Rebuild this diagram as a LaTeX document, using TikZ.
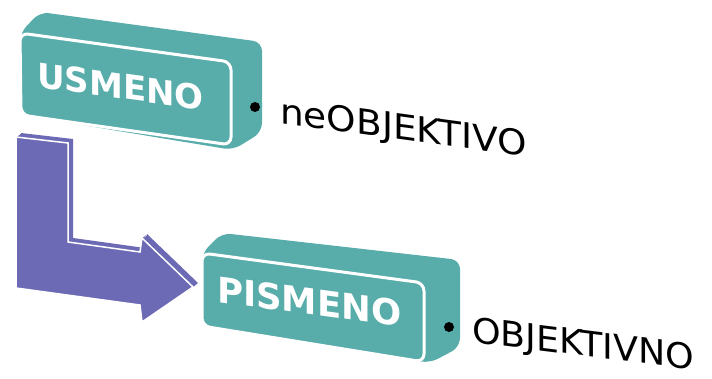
\documentclass[tikz,border=0pt]{standalone}
\usepackage{fontspec}
\setmainfont{DejaVu Sans}
\definecolor{boxteal}{RGB}{88,172,170}
\definecolor{arrowpurple}{RGB}{108,106,180}
\begin{document}
\begin{tikzpicture}[x=1pt,y=-1pt,
  boxback/.style={fill=boxteal, rounded corners=9pt},
  boxfront/.style={fill=boxteal, draw=white, line width=3pt, rounded corners=8pt},
  boxtext/.style={text=white, anchor=base west, inner sep=0pt, text depth=0pt},
  labeltext/.style={text=black, anchor=base west, inner sep=0pt, text depth=0pt, font=\fontsize{35}{40}\selectfont},
  bullet/.style={circle, fill=black, minimum size=10pt, inner sep=0pt},
  arrowfront/.style={fill=arrowpurple, draw=white, line width=1.5pt, line join=miter},
  arrowback/.style={fill=arrowpurple}
]
\useasboundingbox (0,0) rectangle (712,378);

% ---------- L-shaped arrow ----------
\foreach \t in {1,0.75,0.5,0.25}{
  \fill[arrowback, shift={(5*\t,-4*\t)}]
    (16,137) -- (68,143) -- (68,242) -- (140,252) -- (142,238) -- (193,287)
    -- (142,322) -- (140,305) -- (16,288) -- cycle;
}
\draw[arrowfront]
    (16,137) -- (68,143) -- (68,242) -- (140,252) -- (142,238) -- (193,287)
    -- (142,322) -- (140,305) -- (16,288) -- cycle;

% ---------- USMENO box ----------
\fill[boxback] (20,33) -- (40,12) -- (262,42) -- (262,132) -- (233,150) -- (22,115) -- cycle;
\draw[boxfront] (20,33) -- (231,62) -- (231,145) -- (21,115) -- cycle;
\node[boxtext, yslant=-0.138, font=\bfseries\fontsize{34}{40}\selectfont] (usmeno) at (37,87) {USMENO};
\node[bullet] (dot1) at (255,107) {};
\node[labeltext, yslant=-0.136, xscale=1.07] (neobj) at (280,123) {neOBJEKTIVO};

% ---------- PISMENO box ----------
\fill[boxback] (202,253) -- (222,233) -- (460,260) -- (460,347) -- (430,363) -- (202,326) -- cycle;
\draw[boxfront] (202,253) -- (424,283) -- (424,362) -- (202,326) -- cycle;
\node[boxtext, yslant=-0.136, font=\bfseries\fontsize{35.5}{40}\selectfont] (pismeno) at (217,302) {PISMENO};
\node[bullet] (dot2) at (449,327) {};
\node[labeltext, yslant=-0.124, xscale=1.04] (obj) at (472,342) {OBJEKTIVNO};
\end{tikzpicture}
\end{document}
